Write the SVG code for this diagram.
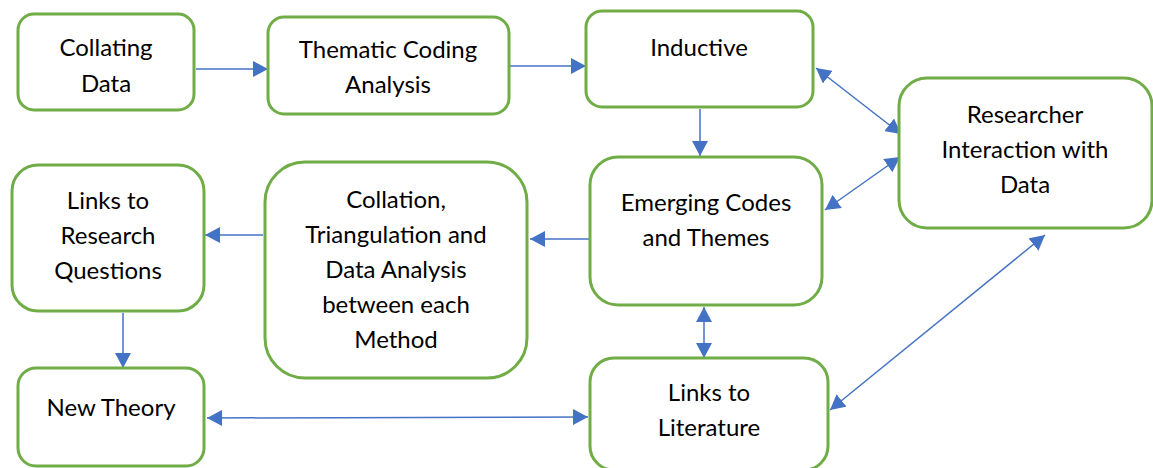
<svg xmlns="http://www.w3.org/2000/svg" width="1153" height="468" viewBox="0 0 1153 468">
  <style>
    .box { fill: #ffffff; stroke: #70AD47; stroke-width: 3; }
    .lbl { font-family: Lato, "Open Sans", "Liberation Sans", sans-serif; font-size: 24px; fill: #000000; text-anchor: middle; }
    .wire { stroke: #4472C4; stroke-width: 1.5; fill: none; }
    .one { marker-end: url(#tip); }
    .two { marker-start: url(#tail); marker-end: url(#tip); }
  </style>
  <defs>
    <marker id="tip" viewBox="0 0 15 16" refX="15" refY="8" markerWidth="15" markerHeight="16" markerUnits="userSpaceOnUse" orient="auto">
      <path d="M0,0 L15,8 L0,16 Z" fill="#4472C4"/>
    </marker>
    <marker id="tail" viewBox="0 0 15 16" refX="0" refY="8" markerWidth="15" markerHeight="16" markerUnits="userSpaceOnUse" orient="auto">
      <path d="M15,0 L0,8 L15,16 Z" fill="#4472C4"/>
    </marker>
  </defs>

  <rect width="1153" height="468" fill="#ffffff"/>

  <g id="connectors">
    <line class="wire one" x1="196" y1="69" x2="268" y2="69"/>
    <line class="wire one" x1="510" y1="66" x2="586" y2="66"/>
    <line class="wire one" x1="700" y1="109" x2="700" y2="156"/>
    <line class="wire two" x1="816" y1="68" x2="901" y2="134"/>
    <line class="wire two" x1="825" y1="210" x2="900" y2="157"/>
    <line class="wire one" x1="589" y1="239" x2="530" y2="239"/>
    <line class="wire one" x1="263" y1="235" x2="205" y2="235"/>
    <line class="wire one" x1="123" y1="313" x2="123" y2="368"/>
    <line class="wire two" x1="704" y1="307" x2="704" y2="358"/>
    <line class="wire two" x1="207" y1="418" x2="588" y2="417"/>
    <line class="wire two" x1="1045" y1="235" x2="830" y2="410"/>
  </g>

  <g id="collating-data">
    <rect class="box" x="18" y="14" width="176" height="96" rx="16"/>
    <text class="lbl" x="106" y="56">Collating</text>
    <text class="lbl" x="106" y="92">Data</text>
  </g>

  <g id="thematic-coding">
    <rect class="box" x="268" y="17" width="241" height="97" rx="16"/>
    <text class="lbl" x="388" y="58">Thematic Coding</text>
    <text class="lbl" x="388" y="93">Analysis</text>
  </g>

  <g id="inductive">
    <rect class="box" x="586" y="11" width="227" height="96" rx="16"/>
    <text class="lbl" x="699" y="56">Inductive</text>
  </g>

  <g id="researcher-interaction">
    <rect class="box" x="899" y="78" width="253" height="150" rx="28"/>
    <text class="lbl" x="1025" y="123">Researcher</text>
    <text class="lbl" x="1025" y="158">Interaction with</text>
    <text class="lbl" x="1025" y="193">Data</text>
  </g>

  <g id="emerging-codes">
    <rect class="box" x="590" y="157" width="232" height="148" rx="28"/>
    <text class="lbl" x="706" y="211">Emerging Codes</text>
    <text class="lbl" x="706" y="246">and Themes</text>
  </g>

  <g id="collation-triangulation">
    <rect class="box" x="265" y="162" width="262" height="216" rx="40"/>
    <text class="lbl" x="396" y="208">Collation,</text>
    <text class="lbl" x="396" y="243">Triangulation and</text>
    <text class="lbl" x="396" y="278">Data Analysis</text>
    <text class="lbl" x="396" y="313">between each</text>
    <text class="lbl" x="396" y="348">Method</text>
  </g>

  <g id="links-research-questions">
    <rect class="box" x="12" y="165" width="192" height="146" rx="26"/>
    <text class="lbl" x="108" y="209">Links to</text>
    <text class="lbl" x="108" y="244">Research</text>
    <text class="lbl" x="108" y="279">Questions</text>
  </g>

  <g id="new-theory">
    <rect class="box" x="18" y="368" width="186" height="98" rx="18"/>
    <text class="lbl" x="111" y="416">New Theory</text>
  </g>

  <g id="links-literature">
    <rect class="box" x="590" y="358" width="238" height="112" rx="24"/>
    <text class="lbl" x="709" y="401">Links to</text>
    <text class="lbl" x="709" y="436">Literature</text>
  </g>
</svg>
